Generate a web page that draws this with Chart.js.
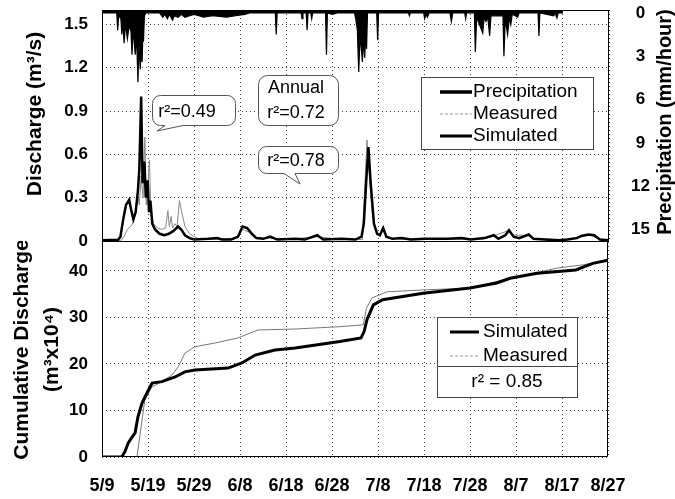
<!DOCTYPE html>
<html>
<head>
<meta charset="utf-8">
<script src="https://cdn.jsdelivr.net/npm/chart.js@4.4.0/dist/chart.umd.min.js"></script>
<style>
  html, body { margin: 0; padding: 0; background: #fff; }
  #wrap { position: relative; width: 675px; height: 499px; }
  #topBox { position: absolute; left: 0; top: 0; width: 675px; height: 255px; }
  #botBox { position: absolute; left: 0; top: 241px; width: 675px; height: 258px; }
</style>
</head>
<body>
<div id="wrap">
  <div id="topBox"><canvas id="qChart"></canvas></div>
  <div id="botBox"><canvas id="cumChart"></canvas></div>
</div>
<script>
// x values are days after 5/9
const dateLabels = ['5/9', '5/19', '5/29', '6/8', '6/18', '6/28', '7/8', '7/18', '7/28', '8/7', '8/17', '8/27'];
const qTicks = [0, 0.3, 0.6, 0.9, 1.2, 1.5];
const pTicks = [0, 3, 6, 9, 12, 15];
const cumTicks = [0, 10, 20, 30, 40];

// [day, mm/hour]
const precipitation = [
  [0, 0], [3.2, 0], [3.4, 1.2], [3.6, 0.2], [4.1, 0.4], [4.3, 1.5], [4.5, 0.5], [4.8, 2.1], [5.1, 0.7],
  [5.5, 1.8], [5.9, 0.9], [6.3, 1.3], [6.5, 2.9], [6.8, 1.1], [7.2, 2.9], [7.5, 1.6], [7.8, 4.8],
  [8.0, 2.1], [8.3, 3.9], [8.5, 2.5], [8.7, 3.4], [8.9, 1.0], [9.0, 2.0], [9.2, 0.2], [9.5, 0],
  [12.5, 0], [13.2, 0.3], [13.6, 0.1], [14.2, 0.4], [14.6, 0.1], [15.3, 0.5], [15.7, 0.2], [16.5, 0.3],
  [17.2, 0.1], [18, 0.3], [19, 0.2], [20, 0.1], [21, 0.2], [22, 0.3], [24, 0.2], [27, 0.3], [29, 0.2],
  [31, 0.1], [32, 0], [37.6, 0], [37.8, 1.5], [38.0, 0], [43.2, 0], [43.4, 0.4], [43.6, 0], [44.3, 0],
  [44.5, 1.2], [44.7, 0], [45.3, 0], [45.5, 0.4], [45.7, 0], [48.5, 0], [48.7, 2.9], [48.9, 0], [50, 0.1],
  [51, 0], [54.8, 0], [55.1, 0.5], [55.4, 1.2], [55.7, 4.1], [56.0, 1.5], [56.5, 3.4], [56.7, 1.8],
  [57.0, 3.1], [57.2, 1.4], [57.4, 2.5], [57.6, 0], [59.6, 0], [59.8, 1.9], [60.0, 0], [66.5, 0],
  [66.7, 0.2], [66.9, 0], [69.8, 0], [70.0, 0.4], [70.3, 0.1], [70.6, 0.3], [71.0, 0], [75.5, 0],
  [75.8, 0.6], [76.1, 0], [78.7, 0], [78.9, 0.4], [79.1, 0], [80.8, 0], [81.0, 2.7], [81.3, 0.3],
  [82.6, 1.4], [82.9, 0.3], [83.3, 0.6], [83.7, 0.3], [84.1, 1.6], [84.4, 0.2], [87.0, 0.2], [87.2, 3.0],
  [87.5, 0.4], [88.0, 1.5], [88.4, 0.3], [88.7, 0.8], [89.0, 0.1], [90.2, 0.3], [90.5, 0], [94.6, 0],
  [94.8, 1.6], [95.0, 0], [98.0, 0.2], [98.3, 0], [98.7, 0.35], [99.0, 0], [100, 0]
];

// [day, m3/s]
const simulatedQ = [
  [0, 0.005], [3.5, 0.008], [4.0, 0.03], [4.6, 0.15], [5.2, 0.25], [5.9, 0.285], [6.3, 0.22], [6.8, 0.15],
  [7.3, 0.2], [7.8, 0.35], [8.1, 0.5], [8.5, 1.0], [8.8, 0.4], [9.2, 0.55], [9.5, 0.3], [9.9, 0.42],
  [10.2, 0.2], [10.5, 0.28], [10.9, 0.12], [11.5, 0.08], [12.5, 0.05], [13.5, 0.04], [14.5, 0.05],
  [15.5, 0.07], [16.5, 0.1], [17.2, 0.08], [18, 0.04], [19, 0.02], [20, 0.01], [23, 0.015], [25, 0.02],
  [26, 0.01], [28, 0.01], [29.5, 0.03], [30.5, 0.1], [31.5, 0.09], [32.5, 0.05], [33.5, 0.02], [35, 0.015],
  [36.5, 0.03], [38, 0.01], [42, 0.015], [44, 0.01], [46.7, 0.04], [48, 0.01], [52, 0.015], [55, 0.01],
  [56.3, 0.03], [56.8, 0.12], [57.3, 0.4], [57.8, 0.65], [58.3, 0.4], [59, 0.12], [59.7, 0.05], [60.3, 0.04],
  [61, 0.09], [61.7, 0.03], [63, 0.015], [65, 0.02], [67, 0.01], [70, 0.015], [75, 0.015], [78, 0.02],
  [80, 0.01], [83, 0.02], [85, 0.04], [86, 0.015], [87.5, 0.04], [88.3, 0.075], [89.3, 0.03], [90.5, 0.02],
  [92.6, 0.045], [93.6, 0.015], [96, 0.01], [99, 0.005], [101, 0.01], [103, 0.02], [104, 0.035],
  [105.5, 0.045], [106.8, 0.04], [108, 0.01], [110, 0.005]
];

const measuredQ = [
  [0, 0], [4.0, 0], [4.8, 0.03], [5.5, 0.08], [6.2, 0.1], [6.8, 0.13], [7.3, 0.2], [7.8, 0.3], [8.1, 0.25],
  [8.5, 0.45], [8.9, 0.3], [9.3, 0.72], [9.6, 0.25], [10.0, 0.4], [10.3, 0.56], [10.6, 0.2], [11.2, 0.12],
  [12, 0.09], [13, 0.08], [13.8, 0.09], [14.3, 0.21], [14.6, 0.1], [15.0, 0.17], [15.3, 0.09], [15.8, 0.12],
  [16.3, 0.1], [16.8, 0.28], [17.3, 0.2], [18, 0.1], [19, 0.05], [20, 0.03], [21, 0.015], [24, 0.01],
  [26, 0.015], [29, 0.02], [30.5, 0.08], [32, 0.06], [33.5, 0.02], [36, 0.02], [40, 0.01], [46.5, 0.03],
  [52, 0.01], [56.5, 0.01], [56.9, 0.3], [57.5, 0.7], [58.0, 0.45], [58.6, 0.2], [59.3, 0.08], [60, 0.04],
  [61, 0.07], [62, 0.02], [66, 0.01], [75, 0.01], [83, 0.015], [85, 0.035], [88, 0.07], [89.5, 0.04],
  [92.5, 0.04], [94, 0.015], [100, 0.01], [104, 0.03], [106, 0.04], [108, 0.01], [110, 0.005]
];

// [day, m3 x 10^4]
const cumSimulated = [
  [0, 0], [4.3, 0], [5.0, 1.2], [5.7, 3.0], [6.5, 4.2], [7.2, 5.2], [7.8, 8.6], [8.7, 11.6], [9.8, 13.8],
  [10.9, 15.9], [13, 16.2], [15.9, 17.2], [18, 18.3], [20.2, 18.7], [27.4, 19.1], [30.4, 20.2], [33.3, 21.9],
  [37.6, 23.0], [42, 23.4], [51.7, 24.8], [56.3, 25.6], [57.0, 27.0], [57.6, 29.5], [59, 32.7], [61, 33.8],
  [69.8, 35.2], [80, 36.3], [85.8, 37.4], [88.7, 38.4], [94.6, 39.5], [103, 40.2], [106.7, 41.6], [110, 42.3]
];

const cumMeasured = [
  [0, 0], [7.6, 0], [9.3, 12.2], [10.8, 15.0], [13, 16.2], [15.2, 17.6], [16.6, 19.4], [18, 22.3],
  [20.2, 23.7], [24.6, 24.5], [29.6, 25.6], [33.9, 27.3], [42, 27.5], [51.7, 28.0], [56.8, 28.4],
  [57.5, 32.0], [58.7, 34.2], [62, 35.5], [69.8, 35.9], [80, 36.3], [88.7, 38.4], [99, 40.6],
  [104.6, 41.3], [110, 42.3]
];

const FONT = '"Liberation Sans", Arial, Helvetica, sans-serif';
Chart.defaults.font.family = FONT;
Chart.defaults.color = '#000';

const toXY = arr => arr.map(([x, y]) => ({ x, y }));
const dotted = { display: false, dash: [1, 3] };
const gridOpts = { color: '#444', lineWidth: 1, drawTicks: false };
const tickFont = { size: 17, weight: 'bold' };

// fixed box sizes, no extra padding from tick labels
function fixSize(w, h) {
  return s => {
    if (w !== null) s.width = w;
    if (h !== null) s.height = h;
    s.paddingTop = 0; s.paddingBottom = 0; s.paddingLeft = 0; s.paddingRight = 0;
  };
}

function callout(ctx, x, y, w, h, r, tail) {
  ctx.beginPath();
  ctx.moveTo(x + r, y);
  ctx.lineTo(x + w - r, y);
  ctx.arcTo(x + w, y, x + w, y + r, r);
  ctx.lineTo(x + w, y + h - r);
  ctx.arcTo(x + w, y + h, x + w - r, y + h, r);
  if (tail) {
    ctx.lineTo(tail[0], y + h);
    ctx.lineTo(tail[1], tail[2]);
    ctx.lineTo(tail[3], y + h);
  }
  ctx.lineTo(x + r, y + h);
  ctx.arcTo(x, y + h, x, y + h - r, r);
  ctx.lineTo(x, y + r);
  ctx.arcTo(x, y, x + r, y, r);
  ctx.closePath();
  ctx.fillStyle = '#fff';
  ctx.fill();
  ctx.strokeStyle = '#555';
  ctx.lineWidth = 1;
  ctx.stroke();
}

function sample(ctx, x1, x2, y, width, color, dash) {
  ctx.save();
  ctx.beginPath();
  ctx.setLineDash(dash || []);
  ctx.strokeStyle = color;
  ctx.lineWidth = width;
  ctx.moveTo(x1, y);
  ctx.lineTo(x2, y);
  ctx.stroke();
  ctx.restore();
}

function vText(ctx, text, x, y, font) {
  ctx.save();
  ctx.translate(x, y);
  ctx.rotate(-Math.PI / 2);
  ctx.font = font;
  ctx.textAlign = 'center';
  ctx.textBaseline = 'middle';
  ctx.fillStyle = '#000';
  ctx.fillText(text, 0, 0);
  ctx.restore();
}

const topDecor = {
  id: 'topDecor',
  afterDraw(chart) {
    const { ctx, chartArea: a } = chart;
    ctx.save();
    ctx.strokeStyle = '#000';
    ctx.lineWidth = 1;
    ctx.strokeRect(a.left + 0.5, a.top + 0.5, a.right - a.left - 1, a.bottom - a.top);

    vText(ctx, 'Discharge (m³/s)', 35, 114, 'bold 21px ' + FONT);
    vText(ctx, 'Precipitation (mm/hour)', 665, 122, 'bold 20px ' + FONT);

    // callouts
    ctx.font = '18px ' + FONT;
    ctx.textBaseline = 'middle';
    ctx.textAlign = 'center';
    callout(ctx, 152.5, 95.5, 83, 30, 8, [183, 157, 131, 165]);
    ctx.fillStyle = '#000';
    ctx.fillText('r²=0.49', 187, 112);
    callout(ctx, 258.5, 75.5, 80, 50, 9, null);
    ctx.fillStyle = '#000';
    ctx.fillText('Annual', 296, 88);
    ctx.fillText('r²=0.72', 296, 113);
    callout(ctx, 258.5, 146.5, 80, 27, 8, [295, 300, 184, 284]);
    ctx.fillStyle = '#000';
    ctx.fillText('r²=0.78', 296, 161);

    // legend
    ctx.fillStyle = '#fff';
    ctx.fillRect(421.5, 77.5, 172, 72);
    ctx.strokeStyle = '#444';
    ctx.lineWidth = 1;
    ctx.strokeRect(421.5, 77.5, 172, 72);
    sample(ctx, 440, 472, 92, 3.5, '#000');
    sample(ctx, 440, 472, 114, 1, '#999', [3, 2]);
    sample(ctx, 440, 472, 136, 3, '#000');
    ctx.font = '19px ' + FONT;
    ctx.textAlign = 'left';
    ctx.fillStyle = '#000';
    ctx.fillText('Precipitation', 473, 92);
    ctx.fillText('Measured', 473, 114);
    ctx.fillText('Simulated', 473, 136);
    ctx.restore();
  }
};

const bottomDecor = {
  id: 'bottomDecor',
  afterDraw(chart) {
    const { ctx, chartArea: a } = chart;
    ctx.save();
    ctx.strokeStyle = '#000';
    ctx.lineWidth = 1;
    ctx.beginPath();
    ctx.moveTo(a.left + 0.5, a.top);
    ctx.lineTo(a.left + 0.5, a.bottom - 0.5);
    ctx.lineTo(a.right - 0.5, a.bottom - 0.5);
    ctx.lineTo(a.right - 0.5, a.top);
    ctx.stroke();

    // legend with r2 row
    const lx = 437.5, ly = 76.5, lw = 140, lh = 80;
    ctx.fillStyle = '#fff';
    ctx.fillRect(lx, ly, lw, lh);
    ctx.strokeStyle = '#444';
    ctx.strokeRect(lx, ly, lw, lh);
    ctx.beginPath();
    ctx.moveTo(lx, 125.5);
    ctx.lineTo(lx + lw, 125.5);
    ctx.stroke();
    sample(ctx, 450, 479, 91, 3, '#000');
    sample(ctx, 450, 479, 115, 1, '#999', [3, 2]);
    ctx.font = '19px ' + FONT;
    ctx.textBaseline = 'middle';
    ctx.textAlign = 'left';
    ctx.fillStyle = '#000';
    ctx.fillText('Simulated', 483, 91);
    ctx.fillText('Measured', 483, 115);
    ctx.textAlign = 'center';
    ctx.fillText('r² = 0.85', 507, 141);
    ctx.restore();
  }
};

new Chart(document.getElementById('qChart'), {
  type: 'line',
  data: {
    datasets: [
      { label: 'Precipitation', data: toXY(precipitation), yAxisID: 'yP', borderColor: '#000',
        backgroundColor: '#000', borderWidth: 1.2, fill: { value: -0.2 }, order: 1 },
      { label: 'Measured', data: toXY(measuredQ), yAxisID: 'yQ', borderColor: '#888', borderWidth: 1, order: 3 },
      { label: 'Simulated', data: toXY(simulatedQ), yAxisID: 'yQ', borderColor: '#000', borderWidth: 2.5, order: 2 }
    ]
  },
  options: {
    responsive: true,
    maintainAspectRatio: false,
    animation: false,
    layout: { autoPadding: false, padding: { top: 10, left: 0, right: 0, bottom: 0 } },
    elements: { point: { radius: 0 }, line: { tension: 0 } },
    plugins: { legend: { display: false }, tooltip: { enabled: false } },
    scales: {
      x: {
        type: 'linear', min: 0, max: 110,
        ticks: { stepSize: 10, display: false },
        grid: gridOpts, border: dotted,
        afterFit: fixSize(null, 14)
      },
      yQ: {
        position: 'left', min: 0, max: 1.6,
        afterBuildTicks: s => { s.ticks = qTicks.map(v => ({ value: v })); },
        ticks: { font: tickFont, padding: 14, autoSkip: false, callback: v => v === 0 ? '0' : v.toFixed(1) },
        grid: gridOpts, border: dotted,
        afterFit: fixSize(102, null)
      },
      yP: {
        position: 'right', reverse: true, min: -0.2, max: 15.8,
        afterBuildTicks: s => { s.ticks = pTicks.map(v => ({ value: v })); },
        ticks: { font: tickFont, padding: 14, autoSkip: false, callback: v => (v < 10 ? ' ' : '') + v },
        grid: { display: false }, border: { display: false },
        afterFit: fixSize(66, null)
      }
    }
  },
  plugins: [topDecor]
});

new Chart(document.getElementById('cumChart'), {
  type: 'line',
  data: {
    datasets: [
      { label: 'Simulated', data: toXY(cumSimulated), borderColor: '#000', borderWidth: 3, order: 1 },
      { label: 'Measured', data: toXY(cumMeasured), borderColor: '#777', borderWidth: 1, order: 2 }
    ]
  },
  options: {
    responsive: true,
    maintainAspectRatio: false,
    animation: false,
    layout: { autoPadding: false, padding: { top: 1, left: 4, right: 67, bottom: 0 } },
    elements: { point: { radius: 0 }, line: { tension: 0 } },
    plugins: { legend: { display: false }, tooltip: { enabled: false } },
    scales: {
      x: {
        type: 'linear', min: 0, max: 110,
        ticks: { stepSize: 10, font: { size: 18, weight: 'bold' }, padding: 18, maxRotation: 0, autoSkip: false,
                 callback: (v, i) => dateLabels[i] },
        grid: gridOpts, border: dotted,
        afterFit: fixSize(null, 42)
      },
      y: {
        min: 0, max: 46.2,
        afterBuildTicks: s => { s.ticks = cumTicks.map(v => ({ value: v })); },
        ticks: { font: tickFont, padding: 14, autoSkip: false },
        grid: gridOpts, border: dotted,
        title: { display: true, text: ['Cumulative Discharge', '(m³x10⁴)'],
                 font: { size: 21, weight: 'bold', lineHeight: 1.43 }, padding: { top: 3, bottom: 0 } },
        afterFit: fixSize(98, null)
      }
    }
  },
  plugins: [bottomDecor]
});
</script>
</body>
</html>
